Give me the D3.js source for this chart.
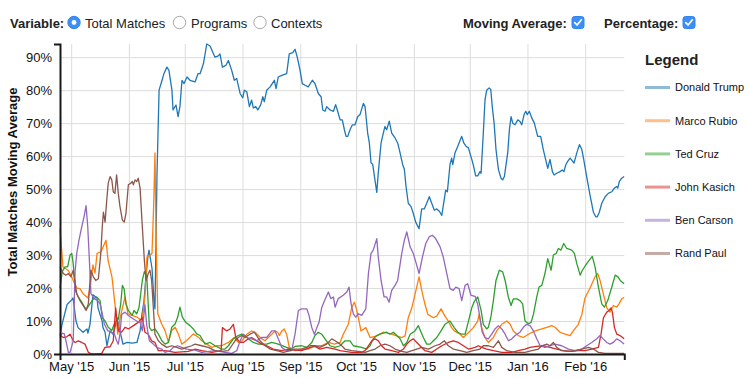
<!DOCTYPE html>
<html><head><meta charset="utf-8">
<script src="https://cdn.jsdelivr.net/npm/d3@7"></script>
<style>
body{margin:0;background:#fff;font-family:"Liberation Sans",Arial,Helvetica,sans-serif;}
svg text{font-family:"Liberation Sans",Arial,Helvetica,sans-serif;}
</style></head><body>
<svg id="chart" width="749" height="378"></svg>
<script>
// ---- data: [days since 2015-04-25, percent] ----
const startDate = "2015-04-25";
const endDay = 303;
const candidates = ["Donald Trump","Marco Rubio","Ted Cruz","John Kasich","Ben Carson","Rand Paul"];
const colors = ["#1f77b4","#ff7f0e","#2ca02c","#d62728","#9467bd","#8c564b"];
const yTicks = [0,10,20,30,40,50,60,70,80,90];
const variableOptions = ["Total Matches","Programs","Contexts"];

const trump = [[0,5.6],[1.1,9],[3.8,15],[6.4,16.5],[7,17],[8.6,10],[9.7,8],[12.4,6.6],[14.5,7.6],[15,6.3],[16.1,9],[17.7,18],[19.9,17],[20.4,14],[22.6,10],[23.1,8],[24.2,6.6],[25.2,2.5],[26.9,7],[28.5,6],[29.5,8],[30.6,11],[32.2,7],[33.8,3],[36,3.5],[38.7,3.3],[41.3,3.5],[43,7],[44,12],[45.1,16],[46.2,24],[47.3,30],[47.8,31.5],[49.4,26],[50.5,16],[51,13.7],[52.1,55],[53.2,80],[54.8,83],[55.8,85],[57.4,87],[58.5,86],[60.1,80],[60.7,74],[62.3,75.5],[63.4,72],[64.4,75],[65.5,83],[66.6,82],[68.2,84],[69.8,83],[72.5,82.5],[74.1,85],[75.2,85],[77,88],[78.8,94],[80.6,93.4],[83.2,90],[85,90.4],[85.9,91],[87.2,87],[89,87.5],[90.4,89],[92.2,86],[93.6,83],[94.9,83.5],[96.7,79],[98.1,77.7],[99,80],[100.3,79.5],[101.7,75],[102.9,77],[103.8,74.6],[105.1,75],[106.2,74],[107.8,75.6],[108.9,78],[109.7,76.5],[111,80],[112.8,81],[115.1,83],[116,80.5],[117.2,84],[119.1,84.5],[121.7,85],[123.1,91],[125,91.4],[126.2,92.4],[127.4,90],[128.9,86],[130.1,82],[131.6,81.5],[133.3,81],[135.5,83],[136.9,82],[138.7,79],[140.2,78],[141.1,74],[142.3,73.6],[143.2,75],[145,74],[146.8,73.6],[148,75.6],[149.1,73.6],[150.4,71],[151.6,71],[152.7,68],[153.6,66],[154.5,66],[155.7,68],[157,69.5],[158.4,69.5],[159.9,72],[161.1,72.6],[162.9,76],[163.8,75],[165.2,67],[166.1,64],[167,58],[167.9,57.5],[168.8,54],[170.1,49],[170.9,55],[172.4,64],[173.6,67],[174.5,69],[175.4,68],[176.8,70.6],[178.1,67],[179.9,65.5],[181.3,64],[182.6,61],[184,57.4],[184.9,56],[185.8,50.8],[187,45.7],[188.5,44.7],[189.7,42.6],[191,40],[192.8,38],[194.2,44],[195.6,44],[196.9,45.7],[198.3,47.7],[199.6,45.7],[201,43.6],[202.3,44],[203.7,43.3],[205,42],[205.8,45],[207.1,49.7],[208,49.2],[209.4,57.4],[210.3,59.4],[210.9,57.4],[212.1,61],[213.6,63],[215.7,66],[216.8,64],[218,63],[219.3,62.5],[221.1,59],[221.9,57.4],[223.2,54],[224.3,54],[225.5,55.3],[226.1,54.8],[227.3,67],[228.2,77],[229.1,80],[230.4,80.7],[231.3,80.2],[232.1,75],[233.1,70],[234.1,62],[235.4,56],[236.8,53.3],[237.7,52.8],[238.6,53.8],[240.4,61],[241.3,68],[242.2,72],[243.1,70],[244.3,69.5],[245.8,71],[247,70.5],[247.9,69.5],[249.2,72.6],[250.1,73.6],[250.9,72.6],[252,73.6],[253.3,71.6],[254.7,70],[256.5,66],[258.1,66],[259.5,62],[261.9,56.3],[263.1,59],[264.4,55.3],[265.3,54.3],[266.7,54.8],[268.5,55.3],[269.7,55.8],[270.6,55.3],[271.6,57.4],[272.6,58.4],[273.9,59.4],[275.3,58.4],[276,57.9],[277.5,61],[278.9,63.5],[280.2,62],[281.2,59],[282.8,53.8],[284.6,48.2],[286.4,43],[287.7,41.6],[288.5,41.6],[289.6,43],[290.9,45.7],[292.7,47.7],[294.4,48.7],[296.3,49.2],[297.7,50.3],[299,50.8],[299.5,50.3],[300.3,52.3],[301.6,53.3],[302.9,53.8]];

const rubio = [[0,38],[1.6,26.4],[4.3,25.4],[5.9,23.9],[8.1,21],[9.1,20],[10.7,19.8],[12.4,18.3],[15,17],[16.1,20],[17.7,27],[18.8,24.5],[19.9,30.5],[22,31],[24.7,34.5],[25.8,28.4],[27.9,23.4],[29.5,15.2],[31,6],[32.2,10.7],[34.9,17.3],[36.5,12.2],[38.7,11.7],[41.3,11.2],[44,10],[45.6,17.3],[46.7,29.4],[48.3,29.9],[49.4,30.5],[50.3,45],[51,61],[51.6,35],[52.5,12.2],[54.6,9.1],[56.4,7.1],[58.2,3.6],[60,7.1],[61.8,8.1],[63.5,6.1],[65.4,3],[68,4.1],[71.6,6.1],[74.3,5.1],[76.1,4],[78.8,3],[81.5,2],[84.1,2.5],[86.8,2.5],[90.4,3.5],[93.6,5],[95.7,3.5],[97.7,4],[100.3,6],[102.9,7],[104.7,6.6],[106.5,5.6],[108.3,4.6],[110.1,4],[113.7,6],[115.5,7],[116.9,6.6],[117.8,5.6],[119.1,7],[120.4,7.6],[121.7,6],[123.1,2],[124.6,1.5],[126.2,1],[129.8,1.5],[133.3,1.5],[136.9,2.5],[140.5,2.5],[144.1,3.5],[147.3,3],[150.4,3.5],[152.1,6],[154.8,9],[156.6,14],[158,15.7],[159,14],[160.2,11],[161.6,7],[164.2,8],[166.5,5],[170.1,5.5],[173.6,6.6],[178.1,6],[183.5,5],[185.3,5.5],[187,11],[188.9,14],[190.6,18],[192.8,23.4],[194.6,18.3],[196,15],[197.5,12],[200.5,11],[202.3,11.5],[204.6,13.7],[206.7,11.5],[208.5,10],[210.3,8],[211.7,7],[214.8,6],[216.6,5],[220.2,7],[221.9,8],[224.3,10],[225,12],[226.4,8],[228.2,5],[230,3.5],[232.7,5],[234.5,7],[237.2,9],[239.9,10],[241.7,9],[243.4,7],[246.1,5.6],[248.8,5],[251.5,6],[255.1,7],[258.7,7.6],[261.4,8.1],[264,8.6],[265.8,8.1],[268.5,6.6],[271.2,6],[273.9,5.6],[275.6,7],[278.3,9],[280.2,12],[281.9,17],[284.6,20],[287.3,23.4],[288.7,24.4],[290,22.3],[291.7,18.3],[293.6,14],[295.3,12.7],[297.1,14.7],[298.9,14.2],[300.2,15.2],[301.6,16.7],[302.9,17.2]];

const cruz = [[0,20],[1.2,25],[2.7,26.4],[4.1,26.4],[5.4,30],[6.3,30.5],[7.1,27.4],[8.4,19],[9.8,17.3],[11.7,15.7],[13.4,14],[14.3,13.7],[16.1,15.2],[17.9,16.7],[19.7,17.3],[21.5,16.2],[22.7,11],[24.2,10],[25.9,8.1],[27.8,7.1],[29.5,9.6],[31.3,10.6],[32.6,15.2],[33.5,20.8],[34.4,19.8],[35.4,15.2],[36.7,13.2],[38.8,11.7],[39.7,13.2],[41.2,12.2],[42.4,14],[44.2,22.3],[45.3,25],[46.6,23.4],[48,8.1],[49.2,7.1],[51,7.6],[52.8,6.1],[54.6,4.1],[56.4,3],[58.2,3.5],[60,8.1],[61.8,9.1],[63.2,11.2],[64.4,14.2],[65.7,11.2],[67.5,9.6],[69.8,8.6],[71.6,7.6],[73.4,6.1],[75.2,5.6],[77.9,3],[80.6,3.5],[83.2,2.5],[86.8,1.5],[88.6,1.5],[90.4,2.5],[93.1,4.6],[95.7,5.6],[97.6,6],[99.3,5.6],[101.1,4.6],[103.8,3.5],[106.5,3],[111,3],[113.7,3.5],[117.2,3],[121.7,2],[124.4,1.5],[126.2,2.3],[129.8,2.5],[132.5,2],[135.2,3.5],[136.9,5.6],[138.7,6.6],[140.5,6],[142.3,4.6],[145,2.5],[147.7,2],[150.4,2.5],[153,4],[155.7,4],[157.5,2.5],[162,2],[164.7,1.5],[166.5,2.5],[168.2,4.6],[170.1,5.6],[171.8,6],[175.4,6.6],[177.2,6],[179,6.6],[180.8,5.6],[182.6,4.6],[184.4,2.5],[186.2,3.5],[188,6],[190.6,7],[192.4,8.6],[193.9,6.6],[195.1,5],[196.9,3],[198.7,3],[200.5,4],[202.3,5],[204.6,7],[206.7,9],[209.4,10],[211.7,8],[213.6,6.6],[215.7,6],[217.5,6],[218.9,9],[221.1,14],[222.5,16],[224.3,17.3],[226.1,13.2],[227.3,9],[229.1,7.6],[230,8.1],[231.3,11],[232.7,16.2],[234.1,22.3],[235.9,25.4],[237.7,24.9],[239,22.3],[240.7,17.3],[242.2,14.7],[243.4,16.7],[245.3,16.7],[247,16.2],[248.4,15.2],[249.7,10],[251.5,9.2],[252.9,9.5],[254.2,12],[256,17.3],[257.2,20.3],[258.7,20.8],[260.4,24.4],[261.9,28.9],[263.7,25.4],[264.9,30],[266.4,30.5],[267.6,32],[269,31.5],[270.5,33.5],[272.1,32],[274.8,31.5],[276.2,30.5],[277.5,27.4],[279.3,23.9],[280.5,25.4],[282.8,27.4],[284.1,28.4],[285.8,29.6],[287.3,26.4],[289.1,20.3],[290.9,15.2],[292.3,14.2],[294.1,16.2],[296.3,20.3],[298.1,23.9],[299.6,23.4],[300.8,22.3],[302.9,21.3]];

const kasich = [[0,5.6],[1.8,5],[3.6,5.2],[5.4,6],[7.1,4],[8.1,3.5],[9.8,4],[11.7,3.5],[13.4,3],[15.2,0.5],[17,0],[19.7,0],[22.4,0.2],[24.2,2],[26.9,2.2],[28.6,4],[29.9,14],[30.4,11],[31.3,7],[33.1,6.6],[34.9,8.1],[36.7,7.6],[39.4,8.6],[42,9.6],[44.2,11],[45.6,6.6],[47.4,6],[49.2,4],[51,3.5],[52.8,1],[56.4,1],[61.8,0.5],[68.9,0.8],[72.5,1.5],[76.1,1],[81.5,0.5],[86.5,1],[87.2,8],[89.5,7],[91.3,7.6],[93.1,9],[94.4,5],[96.7,3.5],[98.4,3.5],[101.1,4.6],[102.9,5],[105.6,4],[108.3,3],[111,2.5],[114.5,1.5],[119.1,1],[122.6,1.5],[126.2,1.2],[129.8,1],[134.3,2],[136.9,2.3],[139.6,1.5],[143.2,2],[147.7,1.5],[150.4,1],[156.6,0.5],[162,0.5],[163.8,1],[165.6,2.5],[167.4,4],[169.2,4.6],[170.9,4],[172.7,2.5],[174.5,1.5],[178.1,1],[181.7,0.5],[184.4,1.5],[186.2,3],[188,4],[189.7,4.6],[191.6,3.5],[193.3,2.5],[196,1],[199.6,0.5],[202.3,1.5],[205,2.5],[208.5,3.5],[211.2,4],[213.9,3.5],[216.6,2.5],[219.3,1.5],[222.9,2],[224.6,2.5],[226.4,2],[229.1,1.5],[232.7,1],[237.2,0.5],[242.6,0.5],[246.1,1],[249.7,1.5],[252.4,2],[256,2.3],[259.5,2.5],[263.1,2],[266.7,1.5],[270.3,1],[274.8,0.8],[278.3,1],[281.9,1],[285.5,1.5],[289.1,2],[290.5,6],[291.8,11],[293.6,12.7],[294.8,13.2],[295.9,14],[296.6,12.7],[297.7,8],[299,6],[300.7,5.6],[302.9,4.6]];

const carson = [[0,5],[1.2,6.3],[2.3,6.1],[3.2,4],[4.5,0.5],[5.4,0.5],[7.1,4],[8.1,25],[9,30.5],[10.2,34.5],[11.7,38.6],[12.9,41.6],[14,45],[14.9,38.6],[15.7,29.4],[16.6,18.3],[18.4,16.8],[20.2,16.2],[21.5,15.2],[22.7,12.2],[23.8,9.1],[25.6,7.1],[27.8,6.6],[29.2,6.1],[30.4,4],[31.3,3],[32.2,6.1],[33.1,12],[34.9,12.7],[36.7,11.7],[39.4,10.6],[41.2,10],[43,9.6],[44.2,7],[45.6,15],[46.6,8.6],[48,4],[50.1,3],[51.9,2],[54.6,1.5],[56.4,0.5],[59.1,1],[60.8,2],[63.2,2.5],[65.4,2],[68,1.5],[72.5,1.2],[76.1,0.5],[83.2,1],[88.6,0.5],[92.2,0.2],[94.9,1],[96.7,4],[98.4,6],[100.3,5],[102.9,4.6],[105.6,4],[108.3,5],[111,5],[113.7,7],[115.5,7],[117.2,4.6],[119.1,2],[121.7,1],[124.4,1],[126.2,6],[128,13.2],[129.8,13.7],[132.5,13.7],[133.7,11.7],[135.2,8],[136.6,6],[137.9,8],[139.1,9.6],[140.5,14],[141.9,16],[144.1,18.8],[145.4,16.8],[146.8,17.3],[147.7,14.2],[149.4,16.8],[152.1,17.8],[154,18.8],[155.2,20.3],[156.3,15.2],[157.5,12.2],[158.8,11.2],[160.2,12.2],[162,11.7],[164.2,13.7],[165.6,24.4],[167,30.5],[168.2,31.5],[170.1,35],[170.9,29.4],[172.4,22.3],[174,17.3],[175.4,17.3],[176.7,15.7],[178.1,19.3],[179.9,20.8],[181.3,22.3],[183.5,30.5],[184.9,34.5],[186.2,37],[188,32.5],[189.7,30.5],[191,28],[192.8,24.4],[194.6,29.4],[196.4,33.5],[198.2,35.5],[199.9,36],[201.7,35],[204.1,32.5],[205.8,29.4],[207.7,24.4],[209.4,19.8],[211.2,19.3],[212.5,20.3],[214.3,19.8],[215.7,16.2],[217.5,20.8],[218.9,21.3],[220.7,17.8],[222.9,17.5],[224.3,15],[225.5,11],[226.7,6.6],[228.2,5],[230,4.6],[231.8,6],[233.6,7.6],[235.4,8.6],[237.2,7.6],[239,6],[240.8,4],[242.6,4.6],[244.4,5.6],[247,6.6],[248.8,8.1],[250.6,9],[252.4,8.6],[254.2,7],[256,4.6],[257.8,2.5],[260.4,2],[263.1,2.5],[265.8,3],[269.4,2.5],[273,1.5],[276.6,1],[280.2,1.5],[282.8,2.5],[285.5,3.5],[288.2,4.6],[290,5.6],[291.7,4.6],[293.6,3.5],[295.3,3],[297.1,3.5],[298.9,4.6],[300.7,4],[302.9,3]];

const paul = [[0,26.4],[1.8,24.4],[3.1,23.9],[4.5,24.4],[5.9,23.4],[7.1,25.4],[9,18.3],[10.7,16.2],[12.5,14.7],[14,13.2],[15.2,15.2],[16.6,25.4],[17.9,23.4],[19.2,22.3],[20.6,22.8],[21.9,30.5],[22.7,38.6],[23.3,43],[24.2,40],[25.1,46.7],[25.9,51.8],[26.9,53.8],[27.8,52.8],[28.6,49.2],[29.5,48.7],[30.4,54.3],[31.3,48.7],[32.2,44.7],[33.5,40.6],[34.5,40],[35.4,42.6],[36.7,51.3],[38.1,51.8],[38.8,52.3],[39.4,51.3],[40.3,52.8],[41.2,52.3],[42,53.3],[43,50.3],[44.2,38.6],[45.3,28.4],[46.2,22.3],[47.4,24.4],[48.3,25.4],[49.2,22.3],[50.1,14.2],[51,6],[52.8,4],[54.6,3],[57.3,2],[60,2.5],[62.7,2],[65.4,1.5],[68,2],[70.7,2.5],[72.5,3],[76.1,2.5],[79.6,2],[83.2,1],[86.8,0.8],[90.4,1],[92.2,2.5],[94,4],[95.7,5],[97.6,5.6],[99.3,5],[102,6],[104.3,6.6],[105.6,5.6],[107.4,4],[110.1,2.5],[112.8,1.5],[116.4,1],[119.9,0.5],[123.5,1],[126.2,1.5],[129.8,1.5],[134.3,2.5],[136.9,2.5],[139.6,2],[143.2,3],[145.9,4.6],[147.7,4],[150.4,3],[153,1.5],[156.6,1],[160.2,0.8],[163.8,0.5],[166.5,1],[169.2,1.5],[171.8,2.5],[174.5,3],[177.2,2.5],[179.9,1.5],[183.5,0.8],[186.2,0.5],[189,1],[191.6,1.5],[194.2,2],[197.8,1.5],[201.4,2.5],[204.1,3],[206.4,4],[208.5,2.5],[211.2,1.5],[214.8,1],[218.4,0.5],[221.9,1],[225.5,1.5],[227.3,2.5],[230,2.5],[232.7,2],[235.4,4],[237.2,2],[239.9,1],[244.4,0.5],[249.7,0.5],[253.3,1],[256.9,1.5],[258.7,2.5],[261.4,3],[263.1,2.5],[264.9,3.5],[266.7,2],[269.4,1],[273,0.8],[276.6,1],[280.2,1.5],[283.8,2],[286.4,1.5],[289.1,0.5],[292.7,0.2],[298.1,0.2],[302.9,0.2]];

const seriesValues = [trump, rubio, cruz, kasich, carson, paul];

// ---- drawing ----
const svg = d3.select("#chart");
const plot = {left:60, top:44, right:624.3, bottom:354};
const t0 = d3.timeParse("%Y-%m-%d")(startDate);
const toDate = d => new Date(t0.getTime() + d*864e5);
const x = d3.scaleTime().domain([t0, toDate(endDay)]).range([plot.left, plot.right]);
const yMax = d3.max(seriesValues, s => d3.max(s, p => p[1]));
const y = d3.scaleLinear().domain([0, yMax]).range([plot.bottom, plot.top]);

// header controls
const hdr = svg.append("g").attr("font-size", 13).attr("fill", "#222");
hdr.append("text").attr("x", 10).attr("y", 27.5).attr("font-weight", "bold").text("Variable:");
const radioX = [74, 179.5, 260];
const labelX = [85, 191, 271];
variableOptions.forEach((o, i) => {
  hdr.append("circle").attr("cx", radioX[i]).attr("cy", 22.5).attr("r", 6.2)
    .attr("fill", i === 0 ? "#3b8ff6" : "#fff")
    .attr("stroke", i === 0 ? "#3583ea" : "#a8a8a8").attr("stroke-width", 1);
  if (i === 0) hdr.append("circle").attr("cx", radioX[i]).attr("cy", 22.5).attr("r", 2.4).attr("fill", "#fff");
  hdr.append("text").attr("x", labelX[i]).attr("y", 27.5).text(o);
});
function checkbox(cx) {
  hdr.append("rect").attr("x", cx - 6).attr("y", 16.5).attr("width", 12).attr("height", 12)
    .attr("rx", 2.5).attr("fill", "#3b8ff6").attr("stroke", "#3583ea");
  hdr.append("path").attr("d", `M${cx-3.3},22.6 L${cx-0.9},25 L${cx+3.4},19.8`)
    .attr("fill", "none").attr("stroke", "#fff").attr("stroke-width", 1.7)
    .attr("stroke-linecap", "round").attr("stroke-linejoin", "round");
}
hdr.append("text").attr("x", 463).attr("y", 27.5).attr("font-weight", "bold").text("Moving Average:");
checkbox(578);
hdr.append("text").attr("x", 604).attr("y", 27.5).attr("font-weight", "bold").text("Percentage:");
checkbox(689);

// gridlines
const months = d3.timeMonth.every(1);
svg.append("g").attr("transform", `translate(0,${plot.bottom})`)
  .call(d3.axisBottom(x).ticks(months).tickSize(-(plot.bottom - plot.top)).tickFormat(""))
  .call(g => g.select(".domain").remove())
  .call(g => g.selectAll("line").attr("stroke", "#dcdcdc"));
svg.append("g").attr("transform", `translate(${plot.left},0)`)
  .call(d3.axisLeft(y).tickValues(yTicks).tickSize(-(plot.right - plot.left)).tickFormat(""))
  .call(g => g.select(".domain").remove())
  .call(g => g.selectAll("line").attr("stroke", "#dcdcdc"));

// lines
const line = d3.line().x(p => x(toDate(p[0]))).y(p => y(p[1]));
svg.append("g").selectAll("path").data(seriesValues).join("path")
  .attr("d", line).attr("fill", "none")
  .attr("stroke", (d, i) => colors[i]).attr("stroke-width", 1.3)
  .attr("stroke-linejoin", "round");

// axes
const xAxis = svg.append("g").attr("transform", `translate(0,${plot.bottom})`)
  .call(d3.axisBottom(x).ticks(months).tickFormat(d3.timeFormat("%b '%y"))
    .tickSizeInner(0).tickSizeOuter(6).tickPadding(8));
const yAxis = svg.append("g").attr("transform", `translate(${plot.left},0)`)
  .call(d3.axisLeft(y).tickValues(yTicks).tickFormat(d => d + "%")
    .tickSizeInner(0).tickSizeOuter(6).tickPadding(8));
[xAxis, yAxis].forEach(g => {
  g.attr("font-family", null).attr("font-size", null);
  g.selectAll("text").attr("font-size", 13).attr("fill", "#111");
  g.select(".domain").attr("stroke", "#1a1a1a").attr("stroke-width", 2);
});

svg.append("text").attr("transform", "translate(17,182) rotate(-90)")
  .attr("text-anchor", "middle").attr("font-size", 13).attr("font-weight", "bold")
  .attr("fill", "#111").text("Total Matches Moving Average");

// legend
const lg = svg.append("g");
lg.append("text").attr("x", 645).attr("y", 65).attr("font-size", 15)
  .attr("font-weight", "bold").attr("fill", "#222").text("Legend");
candidates.forEach((c, i) => {
  const ly = 87.5 + i * 33.2;
  lg.append("line").attr("x1", 645).attr("x2", 670).attr("y1", ly).attr("y2", ly)
    .attr("stroke", colors[i]).attr("stroke-opacity", 0.5).attr("stroke-width", 3);
  lg.append("text").attr("x", 675).attr("y", ly).attr("dy", "0.35em")
    .attr("font-size", 11).attr("fill", "#111").text(c);
});
</script>
</body></html>
